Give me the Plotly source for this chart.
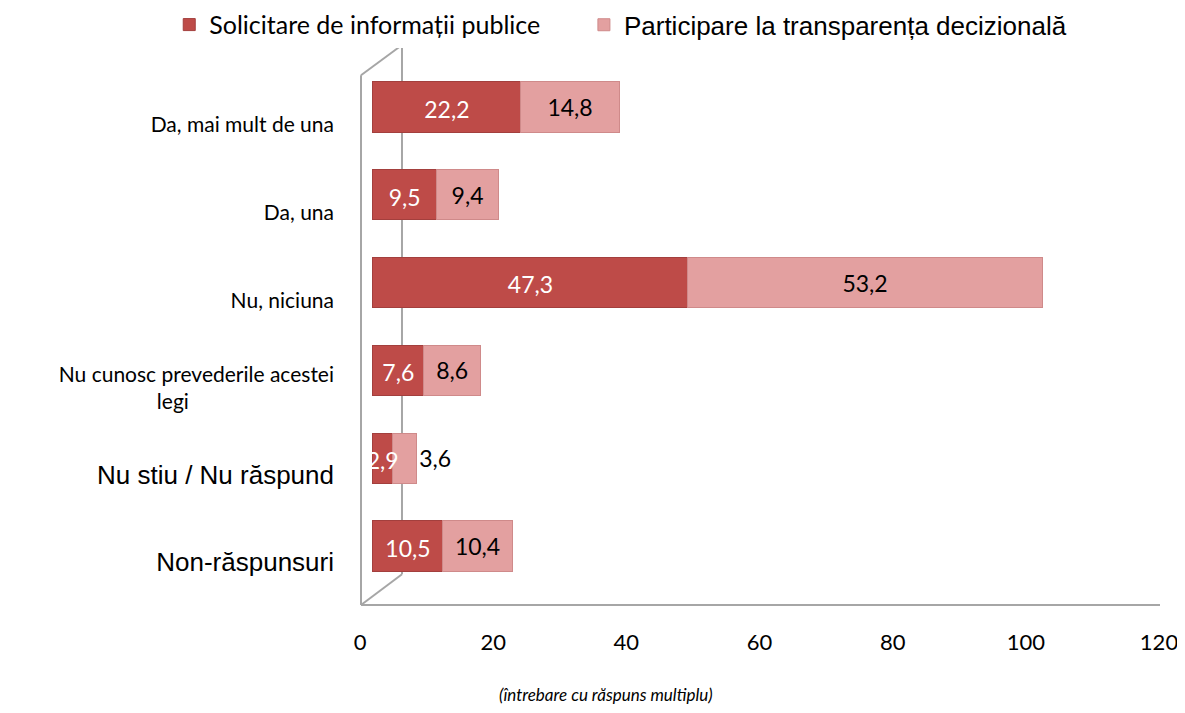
"""
    Stacked horizontal bars - solicitare / participare
"""
import plotly.graph_objects as go

# Data
categories = ['Da, mai mult de una', 'Da, una', 'Nu, niciuna',
              'Nu cunosc prevederile acestei legi', 'Nu stiu / Nu răspund',
              'Non-răspunsuri']
solicitare = [22.2, 9.5, 47.3, 7.6, 2.9, 10.5]
participare = [14.8, 9.4, 53.2, 8.6, 3.6, 10.4]
series_names = ['Solicitare de informații publice',
                'Participare la transparența decizională']
x_ticks = [0, 20, 40, 60, 80, 100, 120]

CALIBRI = 'Lato, Carlito, sans-serif'
ARIAL = 'Liberation Sans, Arial, sans-serif'
DARK = '#BE4B48'
LIGHT = '#E3A0A0'
FRAME = '#A6A6A6'


def label_html(cat):
    # the last two labels are in a bigger Arial-like font
    if cat in ('Nu stiu / Nu răspund', 'Non-răspunsuri'):
        return f'<span style="font-family:{ARIAL};font-size:26px">{cat}</span>'
    if cat.endswith('legi'):
        return 'Nu cunosc prevederile acestei<br>legi' + '\u00a0' * 27
    return cat


def main():
    fig = go.Figure()

    fig.add_trace(go.Bar(
        y=categories, x=solicitare, orientation='h',
        name=series_names[0], legend='legend',
        marker=dict(color=DARK, line=dict(color='#A33F3D', width=1)),
        hoverinfo='skip'))

    # small segments push their label out to the right of the bar
    pos = ['outside' if (s + p) < 10 else 'inside'
           for s, p in zip(solicitare, participare)]
    fig.add_trace(go.Bar(
        y=categories, x=participare, orientation='h',
        name=series_names[1], legend='legend2',
        marker=dict(color=LIGHT, line=dict(color='#CF8A8A', width=1)),
        texttemplate='%{x:.1f}', textposition=pos, insidetextanchor='middle',
        textangle=0, cliponaxis=False,
        textfont=dict(color='black', size=23, family=CALIBRI),
        hoverinfo='skip'))

    # white labels of the dark series, drawn above both bar layers
    fig.add_trace(go.Scatter(
        x=[v / 2 for v in solicitare], y=categories, customdata=solicitare,
        yaxis='y3',
        mode='text', texttemplate='%{customdata:.1f}',
        textposition='middle center', showlegend=False,
        textfont=dict(color='white', size=23, family=CALIBRI),
        hoverinfo='skip'))

    # helper trace carrying the visible axes (labels sit a bit lower than bars)
    fig.add_trace(go.Scatter(
        x=solicitare, y=categories, xaxis='x2', yaxis='y2',
        mode='markers', marker=dict(opacity=0), showlegend=False,
        hoverinfo='skip'))

    hidden_cat = dict(categoryorder='array', categoryarray=categories,
                      showticklabels=False, showgrid=False, zeroline=False,
                      showline=False)

    fig.update_layout(
        width=1177, height=697,
        barmode='stack', bargap=0.43,
        separators=',.',
        uniformtext=dict(minsize=23, mode='show'),
        plot_bgcolor='white', paper_bgcolor='white',
        margin=dict(l=353, r=25, t=37, b=100, autoexpand=False),
        font=dict(family=CALIBRI, size=21, color='black'),
        xaxis=dict(range=[-1.8, 118.2], showticklabels=False, showgrid=False,
                   zeroline=False, showline=False),
        yaxis=dict(range=[5.672, -0.706], **hidden_cat),
        yaxis3=dict(overlaying='y', anchor='x', range=[5.615, -0.763],
                    **hidden_cat),
        xaxis2=dict(overlaying='x', anchor='y2', side='bottom', range=[0, 120],
                    tickvals=x_ticks, showgrid=False, zeroline=False,
                    showline=False, ticks='', ticklabelstandoff=22,
                    ticklabeloverflow='allow', ticklabelshift=-1,
                    tickfont=dict(family=CALIBRI, size=22)),
        yaxis2=dict(overlaying='y', anchor='x2', side='left',
                    categoryorder='array', categoryarray=categories,
                    range=[5.467, -0.911],
                    tickvals=categories,
                    ticktext=[label_html(c) for c in categories],
                    showgrid=False, zeroline=False, showline=False, ticks='',
                    ticklabelstandoff=26,
                    tickfont=dict(family=CALIBRI, size=21)),
        legend=dict(orientation='h', x=-0.240, xanchor='left',
                    y=1.036, yanchor='middle',
                    font=dict(family=CALIBRI, size=25)),
        legend2=dict(orientation='h', x=0.279, xanchor='left',
                     y=1.036, yanchor='middle',
                     font=dict(family=ARIAL, size=26)),
        annotations=[dict(text='<i>(întrebare cu răspuns multiplu)</i>',
                          xref='paper', yref='paper', x=0.307, y=-0.159,
                          xanchor='center', yanchor='middle', showarrow=False,
                          font=dict(family=CALIBRI, size=17))],
    )

    # 3D frame: wall and floor outline
    frame = [
        (0, 0, 0, 0.946),
        (0, 0.946, 0.0513, 1),
        (0.0513, 1, 0.0513, 0.055),
        (0, 0, 0.0513, 0.055),
        (0, 0, 1, 0),
    ]
    for x0, y0, x1, y1 in frame:
        fig.add_shape(type='line', xref='paper', yref='paper',
                      x0=x0, y0=y0, x1=x1, y1=y1,
                      line=dict(color=FRAME, width=2), layer='below')

    fig.write_html('out.html')


if __name__ == "__main__":
    main()
